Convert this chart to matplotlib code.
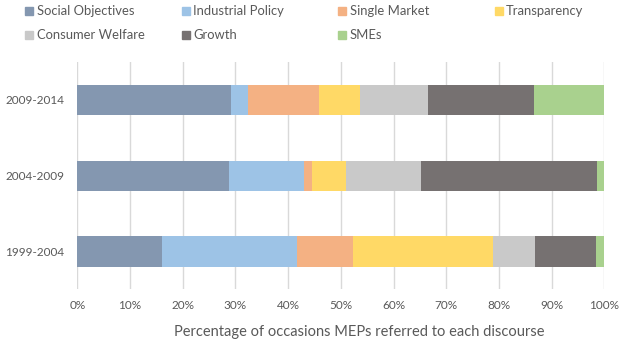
import numpy as np
import matplotlib.pyplot as plt
from matplotlib.patches import Rectangle

plt.rcParams['font.family'] = ['Lato', 'DejaVu Sans']

periods = ['1999-2004', '2004-2009', '2009-2014']
discourses = ['Social Objectives', 'Industrial Policy', 'Single Market', 'Transparency',
              'Consumer Welfare', 'Growth', 'SMEs']
colors = ['#8497B0', '#9DC3E6', '#F4B183', '#FFD966', '#C9C9C9', '#767171', '#A9D18E']

# shares (%) per period, ordered as `periods`
social_objectives = [16.0, 28.8, 29.2]
industrial_policy = [25.7, 14.2, 3.2]
single_market = [10.6, 1.5, 13.5]
transparency = [26.6, 6.4, 7.7]
consumer_welfare = [7.9, 14.3, 12.9]
growth = [11.6, 33.4, 20.1]
smes = [1.6, 1.4, 13.4]

series = [social_objectives, industrial_policy, single_market, transparency,
          consumer_welfare, growth, smes]

W, H = 624, 347
fig = plt.figure(figsize=(W / 100, H / 100), dpi=100)
ax = fig.add_axes([77.3 / W, 1 - 289.4 / H, (604.3 - 77.3) / W, (289.4 - 62) / H])

y = np.arange(len(periods))
left = np.zeros(len(periods))
for vals, col, name in zip(series, colors, discourses):
    vals = np.array(vals)
    ax.barh(y, vals, left=left, height=0.4, color=col, label=name, zorder=3)
    left += vals

ax.set_xlim(0, 100)
ax.set_ylim(-0.5, 2.5)
ax.set_yticks(y)
ax.set_yticklabels(periods)
ax.set_xticks(np.arange(0, 101, 10))
ax.set_xticklabels([f'{v}%' for v in range(0, 101, 10)])
ax.grid(axis='x', color='#D9D9D9', linewidth=1, zorder=0)
for s in ax.spines.values():
    s.set_visible(False)
ax.tick_params(length=0, labelsize=8.5, colors='#595959')
ax.tick_params(axis='x', pad=7.5)
ax.tick_params(axis='y', pad=9.5)
ax.set_xlabel('Percentage of occasions MEPs referred to each discourse',
              fontsize=10.5, color='#595959', labelpad=10.5)
# title sits a bit right of the plot centre, as in the spreadsheet
ax.xaxis.label.set_x((359 - 77.3) / (604.3 - 77.3))

# legend laid out like the spreadsheet one: 4 columns, 2 rows
for i, (name, col) in enumerate(zip(discourses, colors)):
    cx = 25.3 + 156.5 * (i % 4)
    cy = 11.2 + 23.8 * (i // 4)
    fig.patches.append(Rectangle((cx / W, 1 - (cy + 4) / H), 8 / W, 8 / H,
                                 transform=fig.transFigure, color=col))
    fig.text((cx + 11.4) / W, 1 - cy / H, name, fontsize=9.4, color='#595959',
             va='center', ha='left')

fig.savefig('out.png', dpi=100)
